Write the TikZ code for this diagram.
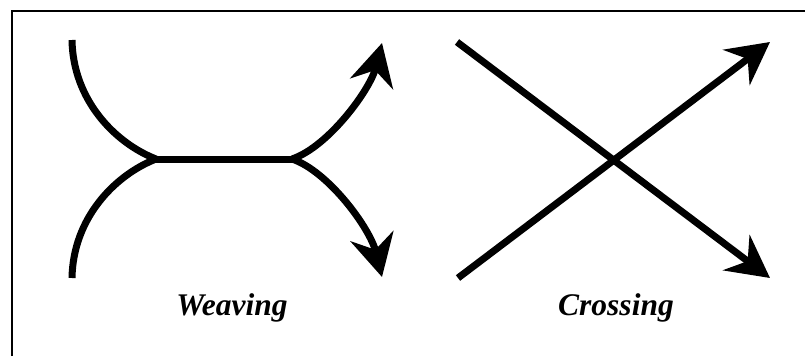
\documentclass[tikz,border=0pt]{standalone}
\usepackage{fontspec}
\setmainfont{Liberation Serif}
\usetikzlibrary{arrows.meta}

\tikzset{
  strand/.style={line width=7pt, line cap=butt},
  tipped/.style={strand, -{Stealth[length=42pt, width=44pt, inset=14pt]}},
  frameline/.style={line width=2pt},
  caption/.style={font=\fontsize{31.5}{38}\selectfont\bfseries\itshape, anchor=base, inner sep=0pt}
}

\begin{document}
\begin{tikzpicture}[x=1pt, y=-1pt]
  \useasboundingbox (0,0) rectangle (805,356);

  % partial frame: left and top edges
  \draw[frameline] (11.8,356) -- (11.8,10.8) -- (805,10.8);

  % ---- weaving ----
  \coordinate (ulA) at (72,40);
  \coordinate (llA) at (72,278);
  \coordinate (jL)  at (156,159);
  \coordinate (jR)  at (292,159);
  \coordinate (urT) at (382,43);
  \coordinate (lrT) at (382,277);

  \draw[strand] (ulA) .. controls (73,100) and (115,143) .. (jL);
  \draw[strand] (llA) .. controls (73,218) and (115,175) .. (jL);
  \draw[strand] (jL) -- (jR);
  \draw[tipped] (jR) .. controls (328,147) and (370,90) .. (urT);
  \draw[tipped] (jR) .. controls (328,171) and (370,228) .. (lrT);

  % ---- crossing ----
  \coordinate (cA) at (457,42);
  \coordinate (cB) at (458,278);
  \coordinate (cAT) at (770,278);
  \coordinate (cBT) at (770,42);
  \draw[tipped] (cA) -- (cAT);
  \draw[tipped] (cB) -- (cBT);

  % ---- captions ----
  \node[caption] (weave) at (232,315) {Weaving};
  \node[caption] (cross) at (616,315) {Crossing};
\end{tikzpicture}
\end{document}
